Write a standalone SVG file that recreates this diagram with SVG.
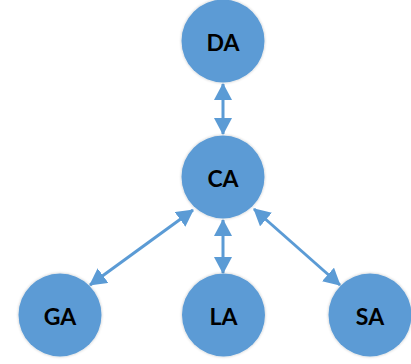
<svg xmlns="http://www.w3.org/2000/svg" width="411" height="364" viewBox="0 0 411 364">
<defs>
<style>
.node circle{fill:#5B9BD5;filter:url(#sh)}
.node text{font-family:Lato,"Open Sans","Liberation Sans",sans-serif;font-weight:bold;font-size:23px;fill:#000;text-anchor:middle;dominant-baseline:central}
.conn line{stroke:#5B9BD5;stroke-width:3;marker-start:url(#ah);marker-end:url(#ah)}
</style>
<filter id="sh" x="-20%" y="-20%" width="140%" height="140%">
<feGaussianBlur in="SourceAlpha" stdDeviation="1.5"/>
<feComponentTransfer><feFuncA type="linear" slope="0.25"/></feComponentTransfer>
<feMerge><feMergeNode/><feMergeNode in="SourceGraphic"/></feMerge>
</filter>
<marker id="ah" markerUnits="userSpaceOnUse" markerWidth="17" markerHeight="18" viewBox="0 0 17 18" refX="16" refY="9" orient="auto-start-reverse">
<path d="M0,0 L17,9 L0,18 Z" fill="#5B9BD5"/>
</marker>
</defs>
<g class="conn" id="connectors">
<line x1="223" y1="84" x2="223" y2="134"/>
<line x1="193" y1="210" x2="90" y2="285"/>
<line x1="223" y1="220" x2="223" y2="273"/>
<line x1="254" y1="209" x2="340" y2="285"/>
</g>
<g class="node" id="DA"><circle cx="223" cy="41" r="41.5"/><text x="223" y="42">DA</text></g>
<g class="node" id="CA"><circle cx="223" cy="177" r="41.5"/><text x="223" y="178">CA</text></g>
<g class="node" id="GA"><circle cx="60" cy="315" r="41.5"/><text x="60" y="316">GA</text></g>
<g class="node" id="LA"><circle cx="223.5" cy="315" r="41.5"/><text x="223.5" y="316">LA</text></g>
<g class="node" id="SA"><circle cx="370" cy="315" r="41.5"/><text x="370" y="316">SA</text></g>
</svg>
